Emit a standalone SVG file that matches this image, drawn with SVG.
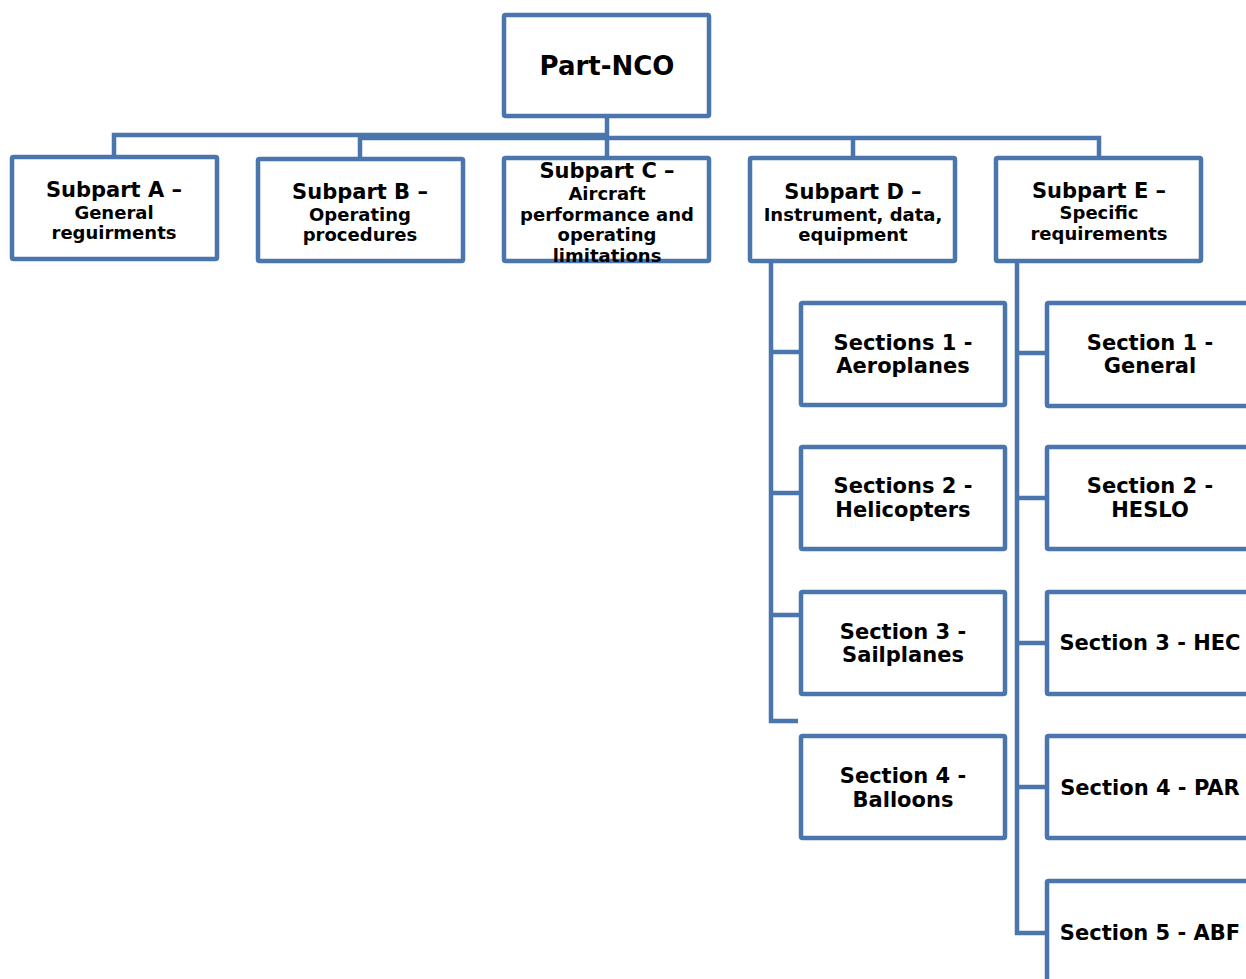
<svg xmlns="http://www.w3.org/2000/svg" width="1246" height="979" viewBox="0 0 1246 979">
<style>
.box{fill:#fff;stroke:#4a76ad;stroke-width:4.5}
.con{fill:none;stroke:#4a76ad;stroke-width:4.5;stroke-linejoin:miter;stroke-linecap:butt}
text{font-family:"DejaVu Sans","Verdana",sans-serif;font-weight:bold;fill:#000;text-anchor:middle}
.t{font-size:21px}
.s{font-size:18px}
.r{font-size:26px}
</style>
<rect width="1246" height="979" fill="#fff"/>
<g id="connectors">
<path class="con" d="M114,157 V135 H607"/>
<path class="con" d="M360,159 V138 H1099 V158"/>
<path class="con" d="M607,116 V158"/>
<path class="con" d="M853,138 V158"/>
<path class="con" d="M771,261 V721 H798"/>
<path class="con" d="M771,352 H801 M771,493 H801 M771,615 H801"/>
<path class="con" d="M1017,261 V933 H1047"/>
<path class="con" d="M1017,353 H1047 M1017,498 H1047 M1017,643 H1047 M1017,787 H1047"/>
</g>
<g id="part-nco"><rect class="box" x="504" y="15" width="205" height="101" rx="1.5"/><text class="r" x="607" y="75">Part-NCO</text></g>
<g id="subpart-a"><rect class="box" x="12" y="157" width="205" height="102" rx="1.5"/><text class="t" x="114" y="197">Subpart A –</text><text class="s" x="114" y="219">General</text><text class="s" x="114" y="239">reguirments</text></g>
<g id="subpart-b"><rect class="box" x="258" y="159" width="205" height="102" rx="1.5"/><text class="t" x="360" y="199">Subpart B –</text><text class="s" x="360" y="221">Operating</text><text class="s" x="360" y="241">procedures</text></g>
<g id="subpart-c"><rect class="box" x="504" y="158" width="205" height="103" rx="1.5"/><text class="t" x="607" y="178">Subpart C –</text><text class="s" x="607" y="200">Aircraft</text><text class="s" x="607" y="221">performance and</text><text class="s" x="607" y="241">operating</text><text class="s" x="607" y="262">limitations</text></g>
<g id="subpart-d"><rect class="box" x="750" y="158" width="205" height="103" rx="1.5"/><text class="t" x="853" y="199">Subpart D –</text><text class="s" x="853" y="221">Instrument, data,</text><text class="s" x="853" y="241">equipment</text></g>
<g id="subpart-e"><rect class="box" x="996" y="158" width="205" height="103" rx="1.5"/><text class="t" x="1099" y="198">Subpart E –</text><text class="s" x="1099" y="219">Specific</text><text class="s" x="1099" y="240">requirements</text></g>
<g id="d-s1"><rect class="box" x="801" y="303" width="204" height="102" rx="1.5"/><text class="t" x="903" y="350">Sections 1 -</text><text class="t" x="903" y="373">Aeroplanes</text></g>
<g id="d-s2"><rect class="box" x="801" y="447" width="204" height="102" rx="1.5"/><text class="t" x="903" y="493">Sections 2 -</text><text class="t" x="903" y="517">Helicopters</text></g>
<g id="d-s3"><rect class="box" x="801" y="592" width="204" height="102" rx="1.5"/><text class="t" x="903" y="639">Section 3 -</text><text class="t" x="903" y="662">Sailplanes</text></g>
<g id="d-s4"><rect class="box" x="801" y="736" width="204" height="102" rx="1.5"/><text class="t" x="903" y="783">Section 4 -</text><text class="t" x="903" y="807">Balloons</text></g>
<g id="e-s1"><rect class="box" x="1047" y="303" width="205" height="103" rx="1.5"/><text class="t" x="1150" y="350">Section 1 -</text><text class="t" x="1150" y="373">General</text></g>
<g id="e-s2"><rect class="box" x="1047" y="447" width="205" height="102" rx="1.5"/><text class="t" x="1150" y="493">Section 2 -</text><text class="t" x="1150" y="517">HESLO</text></g>
<g id="e-s3"><rect class="box" x="1047" y="592" width="205" height="102" rx="1.5"/><text class="t" x="1150" y="650">Section 3 - HEC</text></g>
<g id="e-s4"><rect class="box" x="1047" y="736" width="205" height="102" rx="1.5"/><text class="t" x="1150" y="795">Section 4 - PAR</text></g>
<g id="e-s5"><rect class="box" x="1047" y="881" width="205" height="110" rx="1.5"/><text class="t" x="1150" y="940">Section 5 - ABF</text></g>
</svg>
